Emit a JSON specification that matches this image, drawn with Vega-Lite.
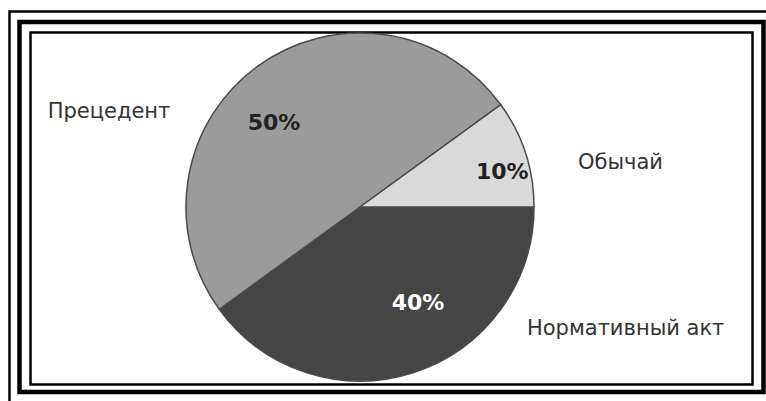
{
  "$schema": "https://vega.github.io/schema/vega-lite/v6.json",
  "autosize": "none",
  "width": 722,
  "height": 352,
  "padding": {"left": 30.5, "top": 32.5, "right": 13.5, "bottom": 16.5},
  "background": "white",
  "config": {"view": {"stroke": "black", "strokeWidth": 2.5}},
  "data": {"values": [
    {"category": "Нормативный акт", "value": 40, "label": "40%", "rank": 1},
    {"category": "Прецедент", "value": 50, "label": "50%", "rank": 2},
    {"category": "Обычай", "value": 10, "label": "10%", "rank": 3}
  ]},
  "encoding": {
    "theta": {"field": "value", "type": "quantitative", "stack": true, "scale": {"range": [1.5708, 7.854]}},
    "order": {"field": "rank", "type": "quantitative"}
  },
  "layer": [
    {
      "data": {"values": [{}]},
      "mark": {"type": "rect", "filled": false, "stroke": "black", "strokeWidth": 2.5, "xOffset": -21, "x2Offset": 30, "yOffset": -21, "y2Offset": 30},
      "encoding": {"theta": null, "order": null, "x": {"value": 0}, "x2": {"value": "width"}, "y": {"value": 0}, "y2": {"value": "height"}}
    },
    {
      "data": {"values": [{}]},
      "mark": {"type": "rect", "filled": false, "stroke": "black", "strokeWidth": 4.5, "xOffset": -11, "x2Offset": 11, "yOffset": -10.5, "y2Offset": 7.5},
      "encoding": {"theta": null, "order": null, "x": {"value": 0}, "x2": {"value": "width"}, "y": {"value": 0}, "y2": {"value": "height"}}
    },
    {
      "mark": {"type": "arc", "radius": 174, "stroke": "#4a4a4a", "strokeWidth": 1.5, "x": {"expr": "width/2-31.5"}, "y": {"expr": "height/2-1.5"}},
      "encoding": {
        "color": {"field": "category", "type": "nominal", "legend": null,
          "scale": {"domain": ["Нормативный акт", "Прецедент", "Обычай"], "range": ["#454545", "#9b9b9b", "#d9d9d9"]}}
      }
    },
    {
      "mark": {"type": "text", "radius": 118, "font": "DejaVu Sans", "fontSize": 22, "fontWeight": "bold",
        "x": {"expr": "width/2-31.5"}, "y": {"expr": "height/2-1.5"},
        "dx": {"expr": "datum.category==='Прецедент' ? -16.6 : datum.category==='Обычай' ? 30 : 21.5"},
        "dy": {"expr": "datum.category==='Прецедент' ? 11.5 : datum.category==='Обычай' ? 1.5 : -16"}},
      "encoding": {
        "text": {"field": "label"},
        "color": {"condition": {"test": "datum.category==='Нормативный акт'", "value": "white"}, "value": "#222222"}
      }
    },
    {
      "mark": {"type": "text", "radius": 173, "font": "DejaVu Sans", "fontSize": 21, "color": "#333333", "baseline": "middle",
        "x": {"expr": "width/2-31.5"}, "y": {"expr": "height/2-1.5"},
        "align": {"expr": "datum.category==='Прецедент' ? 'right' : 'left'"},
        "dx": {"expr": "datum.category==='Прецедент' ? -88 : datum.category==='Обычай' ? 53.5 : 113.5"},
        "dy": {"expr": "datum.category==='Прецедент' ? 45 : datum.category==='Обычай' ? 9.5 : -42.5"}},
      "encoding": {
        "text": {"field": "category"}
      }
    }
  ]
}
